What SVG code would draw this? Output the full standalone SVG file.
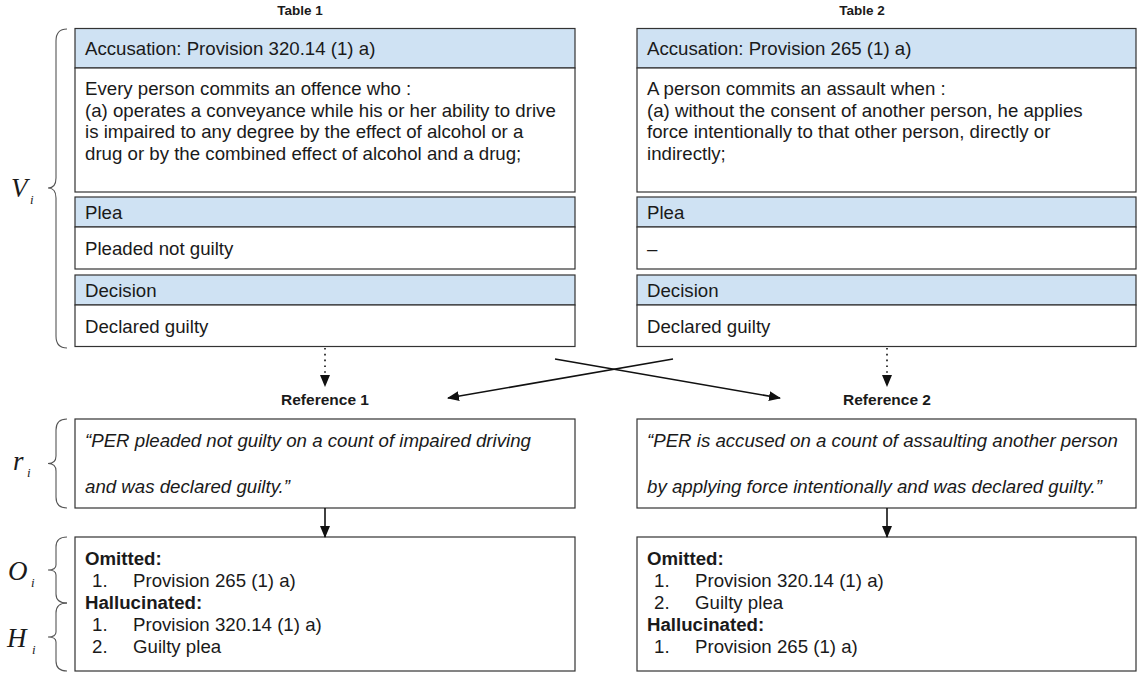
<svg xmlns="http://www.w3.org/2000/svg" width="1137" height="675" viewBox="0 0 1137 675">
<style>
.box{fill:#ffffff;stroke:#333333;stroke-width:1.2}
.hdr{fill:#cfe2f3;stroke:#333333;stroke-width:1.2}
.t{font-family:"Liberation Sans",Arial,sans-serif;font-size:18.67px;fill:#1a1a1a}
.it{font-style:italic}
.b{font-weight:bold}
.ttl{font-family:"Liberation Sans",Arial,sans-serif;font-size:13.5px;font-weight:bold;fill:#1a1a1a;text-anchor:middle}
.ref{font-family:"Liberation Sans",Arial,sans-serif;font-size:15.5px;font-weight:bold;fill:#1a1a1a;text-anchor:middle}
.m{font-family:"Liberation Serif","Times New Roman",serif;font-style:italic;fill:#1a1a1a}
.brace{fill:none;stroke:#555555;stroke-width:1.1}
.ln{fill:none;stroke:#111111;stroke-width:1.6}
.dot{fill:none;stroke:#111111;stroke-width:1.6;stroke-dasharray:1.6 4.2}
</style>
<defs>
<marker id="ah" viewBox="0 0 12 10" refX="11" refY="5" markerWidth="12" markerHeight="10" markerUnits="userSpaceOnUse" orient="auto">
<path d="M0,0 L12,5 L0,10 Z" fill="#111111"/>
</marker>
</defs>

<text class="ttl" x="300" y="15">Table 1</text>
<text class="ttl" x="862" y="15">Table 2</text>

<g id="table1">
<rect class="hdr" x="75" y="28.5" width="500" height="39.5"/>
<text class="t" x="85" y="55">Accusation: Provision 320.14 (1) a)</text>
<rect class="box" x="75" y="68" width="500" height="124"/>
<text class="t" x="85" y="95">Every person commits an offence who :</text>
<text class="t" x="85" y="116.5">(a) operates a conveyance while his or her ability to drive</text>
<text class="t" x="85" y="138">is impaired to any degree by the effect of alcohol or a</text>
<text class="t" x="85" y="159.5">drug or by the combined effect of alcohol and a drug;</text>
<rect class="hdr" x="75" y="197" width="500" height="30"/>
<text class="t" x="85" y="219">Plea</text>
<rect class="box" x="75" y="227" width="500" height="42"/>
<text class="t" x="85" y="255">Pleaded not guilty</text>
<rect class="hdr" x="75" y="275" width="500" height="30"/>
<text class="t" x="85" y="297">Decision</text>
<rect class="box" x="75" y="305" width="500" height="41.5"/>
<text class="t" x="85" y="333">Declared guilty</text>
</g>

<g id="table2">
<rect class="hdr" x="637" y="28.5" width="499" height="39.5"/>
<text class="t" x="647" y="55">Accusation: Provision 265 (1) a)</text>
<rect class="box" x="637" y="68" width="499" height="124"/>
<text class="t" x="647" y="95">A person commits an assault when :</text>
<text class="t" x="647" y="116.5">(a) without the consent of another person, he applies</text>
<text class="t" x="647" y="138">force intentionally to that other person, directly or</text>
<text class="t" x="647" y="159.5">indirectly;</text>
<rect class="hdr" x="637" y="197" width="499" height="30"/>
<text class="t" x="647" y="219">Plea</text>
<rect class="box" x="637" y="227" width="499" height="42"/>
<text class="t" x="647" y="255">–</text>
<rect class="hdr" x="637" y="275" width="499" height="30"/>
<text class="t" x="647" y="297">Decision</text>
<rect class="box" x="637" y="305" width="499" height="41.5"/>
<text class="t" x="647" y="333">Declared guilty</text>
</g>

<g id="reference1">
<text class="ref" x="325" y="405">Reference 1</text>
<rect class="box" x="75" y="419" width="500" height="89"/>
<text class="t it" x="85" y="447">“PER pleaded not guilty on a count of impaired driving</text>
<text class="t it" x="85" y="493">and was declared guilty.”</text>
</g>

<g id="reference2">
<text class="ref" x="887" y="405">Reference 2</text>
<rect class="box" x="637" y="419" width="499" height="89"/>
<text class="t it" x="647" y="447">“PER is accused on a count of assaulting another person</text>
<text class="t it" x="647" y="493">by applying force intentionally and was declared guilty.”</text>
</g>

<g id="result1">
<rect class="box" x="75" y="537" width="500" height="134"/>
<text class="t b" x="85" y="565">Omitted:</text>
<text class="t" x="92" y="587">1.</text><text class="t" x="133" y="587">Provision 265 (1) a)</text>
<text class="t b" x="85" y="609">Hallucinated:</text>
<text class="t" x="92" y="631">1.</text><text class="t" x="133" y="631">Provision 320.14 (1) a)</text>
<text class="t" x="92" y="653">2.</text><text class="t" x="133" y="653">Guilty plea</text>
</g>

<g id="result2">
<rect class="box" x="637" y="537" width="499" height="134"/>
<text class="t b" x="647" y="565">Omitted:</text>
<text class="t" x="654" y="587">1.</text><text class="t" x="695" y="587">Provision 320.14 (1) a)</text>
<text class="t" x="654" y="609">2.</text><text class="t" x="695" y="609">Guilty plea</text>
<text class="t b" x="647" y="631">Hallucinated:</text>
<text class="t" x="654" y="653">1.</text><text class="t" x="695" y="653">Provision 265 (1) a)</text>
</g>

<g id="braces">
<path class="brace" d="M67,29 C59,29 56,33 56,41 L56,178 C56,185 53,188 48,188 C53,188 56,191 56,198 L56,336 C56,344 59,348 67,348"/>
<path class="brace" d="M67,419 C59,419 56,423 56,430 L56,456 C56,461 53,463.5 48,463.5 C53,463.5 56,466 56,471 L56,497 C56,504 59,508 67,508"/>
<path class="brace" d="M67,537 C59,537 56,541 56,547 L56,565 C56,568 53,570 48,570 C53,570 56,572 56,575 L56,594 C56,600 59,603 67,603"/>
<path class="brace" d="M67,603 C59,603 56,607 56,613 L56,632 C56,635 53,637 48,637 C53,637 56,639 56,642 L56,661 C56,667 59,671 67,671"/>
</g>

<g id="labels">
<text class="m" x="11" y="197" font-size="27">V</text><text class="m" x="30" y="204" font-size="13">i</text>
<text class="m" x="13" y="470" font-size="27">r</text><text class="m" x="27" y="477" font-size="13">i</text>
<text class="m" x="8" y="580" font-size="27">O</text><text class="m" x="31" y="587" font-size="13">i</text>
<text class="m" x="7" y="647" font-size="27">H</text><text class="m" x="32" y="654" font-size="13">i</text>
</g>

<g id="connectors">
<line class="dot" x1="325" y1="348" x2="325" y2="386" marker-end="url(#ah)"/>
<line class="dot" x1="887" y1="348" x2="887" y2="386" marker-end="url(#ah)"/>
<line class="ln" x1="673" y1="359" x2="448" y2="398" marker-end="url(#ah)"/>
<line class="ln" x1="555" y1="359" x2="780" y2="398" marker-end="url(#ah)"/>
<line class="ln" x1="325" y1="508" x2="325" y2="537" marker-end="url(#ah)"/>
<line class="ln" x1="887" y1="508" x2="887" y2="537" marker-end="url(#ah)"/>
</g>
</svg>
